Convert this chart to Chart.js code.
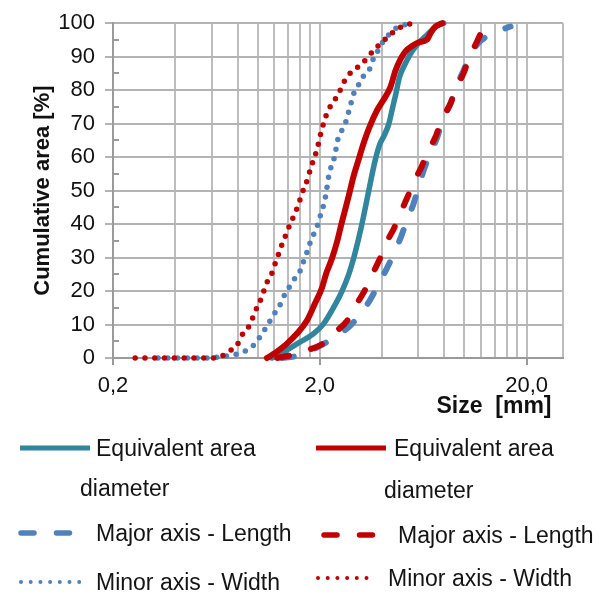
<!DOCTYPE html>
<html><head><meta charset="utf-8">
<script src="https://cdn.jsdelivr.net/npm/chart.js@4.4.0/dist/chart.umd.min.js"></script>
<style>
html,body{margin:0;padding:0;background:#fff;}
#wrap{position:relative;width:608px;height:601px;overflow:hidden;background:#fff;}
#c{position:absolute;left:0;top:0;}
.ltxt{position:absolute;font-family:"Liberation Sans",Arial,sans-serif;font-size:23px;color:#141414;}
.lsvg{position:absolute;left:0;top:0;}
</style></head>
<body><div id="wrap"><canvas id="c" width="608" height="601"></canvas><svg class="lsvg" id="lsvg" width="608" height="601"></svg></div>
<script>
// ---- data ----
const xGridValues = [0.2,0.4,0.6,0.8,1,1.2,1.4,1.6,1.8,2,4,6,8,10,12,14,16,18,20,30];
const xLabelValues = [0.2, 2, 20];
const xLabelTexts = ['0,2', '2,0', '20,0'];
const yTickValues = [0,10,20,30,40,50,60,70,80,90,100];
const yMinorValues = [5,15,25,35,45,55,65,75,85,95];

const seriesLabels = ['Equivalent area diameter','Major axis - Length','Minor axis - Width'];

const tealEqSize = [1.174,1.288,1.387,1.609,1.867,2.086,2.332,2.562,2.758,2.916,3.083,3.238,3.386,3.54,3.714,3.898,4.106,4.318,4.488,4.668,4.853,5.29,5.59,6.02,6.49,6.99,7.52,7.95];
const tealEqCum  = [0,1.2,2.4,4.8,7.3,10.2,15.1,20,24.9,29.8,35.7,41.6,47.5,53.4,59.3,63.8,66.6,70,74.5,79,83.8,89,91.6,94.1,96.1,98,99.5,100];

const blueMajSize = [1.312,1.522,1.701,1.881,2.056,2.273,2.542,2.842,3.178,3.512,3.84,4.198,4.59,4.962,5.306,5.674,6.032,6.378,6.86,7.414,7.84,8.57,9.112,9.908,10.53,11.71,13.85,16.73];
const blueMajCum  = [0,0.5,1.5,2.7,4,5.5,7.5,10,13.5,17.5,22,26.5,31.5,36.5,41.5,46,51.5,56.3,61.2,66.1,71,76,81,85.8,89.7,94.1,97,99];

const blueMinSize = [0.33,0.37,0.42,0.47,0.53,0.59,0.636,0.71,0.794,0.881,0.956,1.022,1.077,1.139,1.204,1.278,1.336,1.412,1.483,1.609,1.668,1.734,1.795,1.875,1.958,2.02,2.09,2.15,2.19,2.248,2.317,2.378,2.424,2.515,2.658,2.758,2.832,2.916,3.083,3.26,3.512,3.644,3.854,4.074,4.39,4.73,5.13,5.49];
const blueMinCum  = [0,0,0,0,0,0,0.2,0.6,1.2,2.2,3.8,6.1,8.2,10.7,13.2,15.6,18.3,20.8,23,26.1,28.8,31.6,34.4,37.2,40,42.9,45.8,49.5,53,56.3,58.5,61.2,64.4,67.1,70.1,73.5,76.1,78.9,81.6,84.3,86.7,89.7,92.1,94.8,97,98.7,99.5,100];

const redEqSize = [1.11,1.241,1.387,1.551,1.734,1.902,2.05,2.15,2.292,2.424,2.534,2.658,2.788,2.916,3.083,3.26,3.484,3.785,4.074,4.39,4.642,4.908,5.19,5.59,6.02,6.61,6.86,7.25,7.81];
const redEqCum  = [0,1.9,4.3,7.3,11.2,16.5,21,25.3,29.8,34.7,39.6,44.5,49.5,54.4,59.3,64.2,69.1,74,77.2,80.9,85.8,89.2,91.6,93.2,94.3,95.1,97,99,100];

const redMajSize = [1.245,1.472,1.759,2.08,2.378,2.718,3.004,3.286,3.592,3.926,4.246,4.59,4.962,5.306,5.738,6.2,6.706,7.25,7.752,8.57,9.162,9.908,10.59,11.54,12.11,12.66,13.85];
const redMajCum  = [0,0.9,2.4,4.4,7.7,11.2,16,20,25,30,35,39,44,48,53,57,62,66,71,76,81,85,90,94.6,97.5,100,100];

const redMinSize = [0.256,0.292,0.327,0.369,0.417,0.472,0.534,0.603,0.672,0.737,0.80,0.84,0.894,0.939,0.974,1.022,1.062,1.098,1.163,1.204,1.252,1.296,1.354,1.414,1.477,1.547,1.609,1.669,1.746,1.799,1.867,1.938,2.011,2.102,2.182,2.292,2.466,2.562,2.708,2.949,3.202,3.447,3.744,4.074,4.39,4.81,5.35,6.02];
const redMinCum  = [0,0,0,0,0,0,0,0,0.6,2.2,4.1,6.8,8.7,11.4,13.9,16.6,19.2,22,24.7,27.4,30.3,33,35.9,38.9,41.6,44.5,47.5,50.4,53.4,56.3,59.3,62.2,66.5,70.8,73.5,76,78.9,81.3,84,86.2,87.9,90.2,92.6,94.8,96.6,98.5,99.7,100];

// ---- styles ----
const TEAL = '#31859C', BLUE = '#4F81BD', RED = '#C00000';
const FONT = '"Liberation Sans", Arial, sans-serif';
const DASH = [12, 23], DOT = [0, 9.8];

function pts(xs, ys) { return xs.map((x, i) => ({ x: x, y: ys[i] })); }
function ds(label, xs, ys, color, dash, width, order) {
  return { label, data: pts(xs, ys), borderColor: color, backgroundColor: color,
    borderWidth: width, borderDash: dash, borderCapStyle: 'round', borderJoinStyle: 'round',
    cubicInterpolationMode: 'monotone', pointRadius: 0, fill: false, clip: false, order };
}
const datasets = [
  ds(seriesLabels[0], tealEqSize, tealEqCum, TEAL, [], 5.5, 1),
  ds(seriesLabels[0], redEqSize, redEqCum, RED, [], 6, 0),
  ds(seriesLabels[1], blueMajSize, blueMajCum, BLUE, DASH, 6, 1),
  ds(seriesLabels[1], redMajSize, redMajCum, RED, DASH, 6, 0),
  ds(seriesLabels[2], blueMinSize, blueMinCum, BLUE, DOT, 5.5, 1),
  ds(seriesLabels[2], redMinSize, redMinCum, RED, DOT, 5.5, 0)
];

function xLabelFor(v) {
  for (let i = 0; i < xLabelValues.length; i++) if (Math.abs(v - xLabelValues[i]) < 1e-9) return xLabelTexts[i];
  return '';
}

const minorTicks = {
  id: 'minorTicks',
  beforeDatasetsDraw(chart) {
    const y = chart.scales.y, ctx = chart.ctx, left = chart.chartArea.left;
    ctx.save(); ctx.strokeStyle = '#9a9a9a'; ctx.lineWidth = 2;
    yMinorValues.forEach(v => { const py = Math.round(y.getPixelForValue(v));
      ctx.beginPath(); ctx.moveTo(left, py); ctx.lineTo(left + 6, py); ctx.stroke(); });
    ctx.restore();
  }
};

const chart = new Chart(document.getElementById('c'), {
  type: 'line',
  data: { datasets },
  options: {
    responsive: false, animation: false, devicePixelRatio: 1,
    layout: { padding: { left: 0, top: 18, right: 45, bottom: 0 } },
    plugins: { legend: { display: false }, tooltip: { enabled: false } },
    scales: {
      x: {
        type: 'logarithmic', min: 0.2, max: 30, position: 'bottom',
        afterBuildTicks: s => { s.ticks = xGridValues.map(v => ({ value: v })); },
        afterFit: s => { s.height = 243; },
        ticks: { autoSkip: false, maxRotation: 0, minRotation: 0, padding: 8, color: '#111',
          font: { size: 22, family: FONT }, callback: v => xLabelFor(v) },
        grid: { color: '#bdbdbd', lineWidth: 2, tickLength: 7,
          tickColor: c => (c.tick && xLabelFor(c.tick.value) !== '') ? '#9a9a9a' : 'rgba(0,0,0,0)' },
        border: { color: '#9a9a9a', width: 2 },
        title: { display: true, text: 'Size  [mm]\u2002', align: 'end', color: '#111',
          font: { size: 23, weight: 'bold', family: FONT }, padding: { top: 0, bottom: 181 } }
      },
      y: {
        min: 0, max: 100,
        afterBuildTicks: s => { s.ticks = yTickValues.map(v => ({ value: v })); },
        afterFit: s => { s.width = 113; },
        ticks: { padding: 10, color: '#111', font: { size: 22, family: FONT } },
        grid: { color: '#b3b3b3', lineWidth: 2, tickLength: 8, tickColor: '#b3b3b3' },
        border: { color: '#9a9a9a', width: 2 },
        title: { display: true, text: 'Cumulative area [%]', color: '#111',
          font: { size: 22, weight: 'bold', family: FONT }, padding: { top: 30, bottom: 0 } }
      }
    }
  },
  plugins: [minorTicks]
});

// ---- HTML legend built from the datasets ----
const legendSlots = [
  { sx0: 20, sx1: 90, sy: 448, tx: 80, indent: 16, ty: 448, lh: 40, w: 200 },
  { sx0: 316, sx1: 386, sy: 448, tx: 384, indent: 10, ty: 448, lh: 42, w: 200 },
  { sx0: 21, sx1: 70, sy: 533, tx: 96, indent: 0, ty: 533, lh: 30, w: 260 },
  { sx0: 324, sx1: 373, sy: 535, tx: 398, indent: 0, ty: 535, lh: 30, w: 260 },
  { sx0: 21, sx1: 81, sy: 582, tx: 96, indent: 0, ty: 582, lh: 30, w: 260 },
  { sx0: 318, sx1: 376, sy: 578, tx: 388, indent: 0, ty: 578, lh: 30, w: 260 }
];
const svg = document.getElementById('lsvg');
const wrap = document.getElementById('wrap');
chart.data.datasets.forEach((d, i) => {
  const s = legendSlots[i];
  const ln = document.createElementNS('http://www.w3.org/2000/svg', 'line');
  ln.setAttribute('x1', s.sx0); ln.setAttribute('x2', s.sx1);
  ln.setAttribute('y1', s.sy); ln.setAttribute('y2', s.sy);
  ln.setAttribute('stroke', d.borderColor);
  ln.setAttribute('stroke-linecap', 'round');
  if (d.borderDash.length && d.borderDash[0] === 0) { ln.setAttribute('stroke-width', 4); ln.setAttribute('stroke-dasharray', '0 9.7'); }
  else if (d.borderDash.length) { ln.setAttribute('stroke-width', 5.5); ln.setAttribute('stroke-dasharray', '13 22.5'); }
  else { ln.setAttribute('stroke-width', 5); ln.setAttribute('stroke-linecap', 'butt'); }
  svg.appendChild(ln);
  const t = document.createElement('div');
  t.className = 'ltxt';
  t.textContent = d.label;
  t.style.left = s.tx + 'px';
  t.style.top = (s.ty - s.lh / 2) + 'px';
  t.style.lineHeight = s.lh + 'px';
  t.style.width = s.w + 'px';
  t.style.textIndent = s.indent + 'px';
  wrap.appendChild(t);
});
</script>
</body></html>
